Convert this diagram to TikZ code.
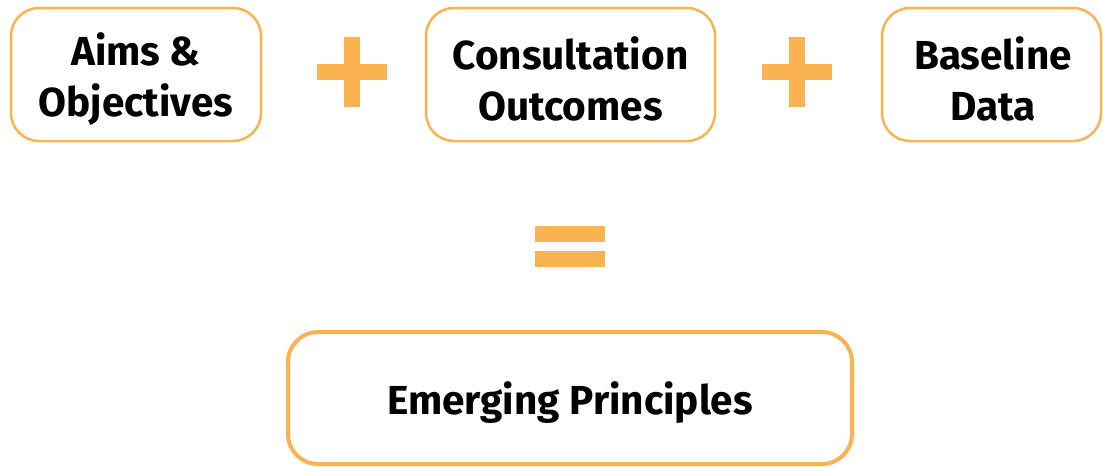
\documentclass[tikz,border=0pt]{standalone}
\usepackage{fontspec}
\setmainfont{Fira Sans}
\definecolor{orng}{RGB}{251,179,81}
\begin{document}
\begin{tikzpicture}[x=1pt,y=-1pt,
  box/.style={draw=orng, line width=2.5pt, rounded corners=28pt, fill=white,
    inner sep=0pt, outer sep=0pt},
  lbl/.style={inner sep=0pt, outer sep=0pt, align=center,
    font=\fontsize{40.5}{51}\selectfont\bfseries},
  bar/.style={fill=orng, draw=none, inner sep=0pt, outer sep=0pt}]
\useasboundingbox (0,0) rectangle (1103,466);
\node[box, minimum width=250pt, minimum height=133pt] (aims) at (136,74.5) {};
\node[box, minimum width=289pt, minimum height=133pt] (cons) at (570.5,74.5) {};
\node[box, minimum width=219pt, minimum height=133pt] (base) at (991.5,74.5) {};
\node[box, line width=4pt, rounded corners=30pt, minimum width=564pt, minimum height=132pt] (emer) at (570,398) {};
\node[lbl] (aimst) at (136,79) {Aims \&\\Objectives};
\node[lbl] (const) at (570.5,79) {Consultation\\Outcomes};
\node[lbl] (baset) at (993,79) {Baseline\\Data};
\node[lbl] (emert) at (570,403) {Emerging Principles};
% plus 1
\node[bar, minimum width=70pt, minimum height=16pt] (p1h) at (352,72) {};
\node[bar, minimum width=16pt, minimum height=70pt] (p1v) at (352,72) {};
% plus 2
\node[bar, minimum width=70pt, minimum height=16pt] (p2h) at (797,72) {};
\node[bar, minimum width=16pt, minimum height=70pt] (p2v) at (797,72) {};
% equals
\node[bar, minimum width=70pt, minimum height=16pt] (eq1) at (570,234) {};
\node[bar, minimum width=70pt, minimum height=16pt] (eq2) at (570,259) {};
\end{tikzpicture}
\end{document}
